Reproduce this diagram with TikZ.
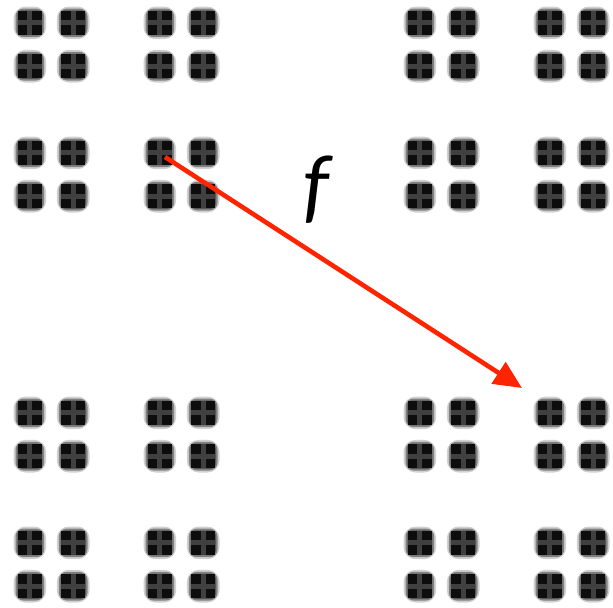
\documentclass[tikz,border=0pt]{standalone}
\usepackage{fontspec}
\usepackage{tikz}
\usetikzlibrary{arrows.meta}
\newfontfamily\labelfont{Carlito}
\definecolor{mapred}{RGB}{255,36,0}
\definecolor{dustgray}{RGB}{30,30,30}

\begin{document}
\begin{tikzpicture}[x=0.5pt, y=-0.5pt,
  dustblob/.pic={
    \fill[black!18, rounded corners=6pt] (-5.5,-5.5) rectangle (27.2,27.2);
    \fill[black!50, rounded corners=4pt] (-3.5,-3.5) rectangle (25.2,25.2);
    \fill[dustgray!85, rounded corners=2pt] (-1.5,-1.5) rectangle (23.2,23.2);
    \foreach \s in {0,14.4} \foreach \t in {0,14.4}
      \fill[black!95] (\s-1,\t-1) rectangle ++(9.2,9.2);
  },
  lbl/.style={font=\labelfont\itshape\fontsize{42}{46}\selectfont, inner sep=0pt},
  arr/.style={-{Triangle[length=14pt, width=12.5pt]}, line width=2.3pt, mapred}]

\useasboundingbox (0,0) rectangle (613,607);

% Cantor dust, four levels, ratio 1/3
\foreach \u in {0,43.3,130,173.3,390,433.3,520,563.3}
  \foreach \v in {0,43.3,130,173.3,390,433.3,520,563.3}
    \pic at (19+\u,12+\v) {dustblob};

\coordinate (src) at (165,157);
\coordinate (dst) at (522,388);
\node[lbl] (flabel) at (316,190) {f};

\draw[arr] (src) -- (dst);
\end{tikzpicture}
\end{document}
